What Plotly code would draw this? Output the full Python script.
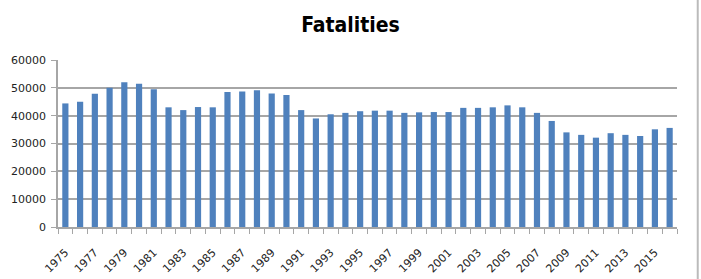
import plotly.graph_objects as go

years = list(range(1975, 2017))
fatalities = [44400, 45000, 47900, 50000, 52000, 51500, 49500, 43000, 42000, 43100,
              43000, 48500, 48700, 49100, 48000, 47400, 42000, 39000, 40500, 41000,
              41600, 41800, 41800, 41000, 41200, 41300, 41300, 42800, 42800, 43000,
              43700, 43000, 41000, 38100, 34000, 33100, 32100, 33700, 33100, 32700,
              35100, 35600]
tick_years = list(range(1975, 2017, 2))
tick_text = [str(y) for y in tick_years]
y_ticks = [0, 10000, 20000, 30000, 40000, 50000, 60000]
y_text = [str(v) for v in y_ticks]

fig = go.Figure(go.Bar(x=years, y=fatalities, marker_color="#4f81bd",
                       marker_line_width=0, width=0.42))

fig.update_layout(
    width=701, height=279,
    margin=dict(l=58, r=24, t=60, b=52),
    paper_bgcolor="white", plot_bgcolor="white",
    showlegend=False,
    title=dict(text="<b>Fatalities</b>", x=0.5, xanchor="center", y=0.91, yanchor="middle",
               font=dict(family="DejaVu Sans Condensed", size=21, color="#000000")),
    font=dict(family="DejaVu Sans", size=11, color="#222222"),
)
fig.update_xaxes(
    range=[1974.5, 2016.5], tickmode="array", tickvals=tick_years, ticktext=tick_text,
    tickangle=-45, ticks="outside", ticklen=0, showgrid=False,
    showline=True, linecolor="#a6a6a6", linewidth=1.5,
    minor=dict(tickmode="array", tickvals=[1974.5 + k for k in range(43)],
               ticks="outside", ticklen=5, tickcolor="#a6a6a6", tickwidth=1, showgrid=False),
    tickfont=dict(size=11), ticklabelstandoff=13, automargin=False,
)
fig.update_yaxes(
    range=[0, 60000], tickmode="array", tickvals=y_ticks, ticktext=y_text,
    showgrid=True, gridcolor="#a6a6a6", gridwidth=1.5,
    showline=True, linecolor="#a6a6a6", linewidth=1.5,
    ticks="outside", ticklen=5, tickcolor="#a6a6a6", zeroline=False,
    tickfont=dict(size=11), ticklabelstandoff=3, automargin=False,
)
fig.add_shape(type="line", xref="paper", yref="paper", x0=1.0335, x1=1.0335, y0=-0.32, y1=1.37,
              line=dict(color="#bbbbbb", width=2))
fig.write_html("out.html")
